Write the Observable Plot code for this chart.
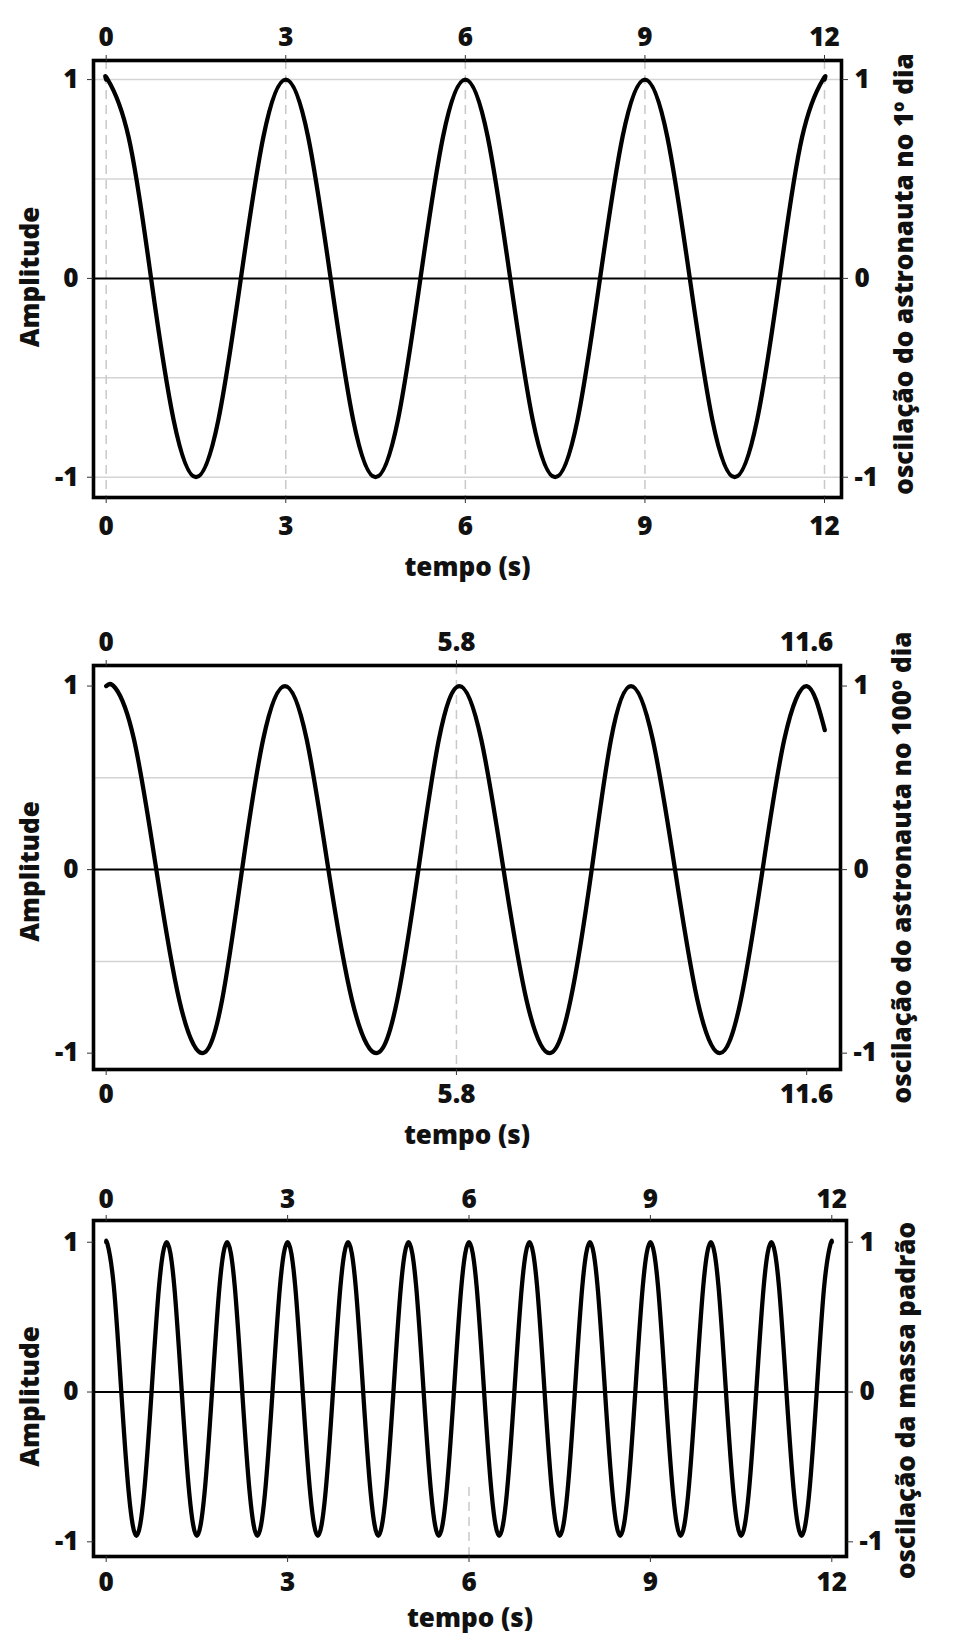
<!DOCTYPE html>
<html>
<head>
<meta charset="utf-8">
<script src="https://cdn.jsdelivr.net/npm/d3@7"></script>
<script src="https://cdn.jsdelivr.net/npm/@observablehq/plot@0.6"></script>
<style>
  html, body { margin: 0; padding: 0; background: #fff; }
  #chart svg { display: block; }
</style>
</head>
<body>
<div id="chart"></div>
<script>
// ---------- data ----------
// Panel 1: oscilação do astronauta no 1º dia
const t1 = [0,0.03,0.375,0.75,1.125,1.5,1.875,2.25,2.625,
            3,3.375,3.75,4.125,4.5,4.875,5.25,5.625,
            6,6.375,6.75,7.125,7.5,7.875,8.25,8.625,
            9,9.375,9.75,10.125,10.5,10.875,11.25,11.625,11.97,12];
const y1 = [1,0.998,0.71,0,-0.71,-1,-0.71,0,0.71,
            1,0.71,0,-0.71,-1,-0.71,0,0.71,
            1,0.71,0,-0.71,-1,-0.71,0,0.71,
            1,0.71,0,-0.71,-1,-0.71,0,0.71,0.998,1];
const xTicks1 = [0,3,6,9,12];

// Panel 2: oscilação do astronauta no 100º dia
const t2 = [0,0.15,0.46,0.83,1.21,1.59,1.92,2.25,2.6,2.96,
            3.32,3.68,4.07,4.47,4.82,5.17,5.51,5.85,
            6.21,6.58,6.96,7.34,7.69,8.04,8.36,8.69,
            9.05,9.42,9.79,10.16,10.51,10.87,11.23,11.6,11.9];
const y2 = [1,0.99,0.71,0,-0.71,-1,-0.71,0,0.71,1,
            0.71,0,-0.71,-1,-0.71,0,0.71,1,
            0.71,0,-0.71,-1,-0.71,0,0.71,1,
            0.71,0,-0.71,-1,-0.71,0,0.71,1,0.76];
const xTicks2 = [0,5.8,11.6];

// Panel 3: oscilação da massa padrão
const t3 = [0,0.02,0.125,0.25,0.375,0.5,0.625,0.75,0.875,
            1,1.125,1.25,1.375,1.5,1.625,1.75,1.875,
            2,2.125,2.25,2.375,2.5,2.625,2.75,2.875,
            3,3.125,3.25,3.375,3.5,3.625,3.75,3.875,
            4,4.125,4.25,4.375,4.5,4.625,4.75,4.875,
            5,5.125,5.25,5.375,5.5,5.625,5.75,5.875,
            6,6.125,6.25,6.375,6.5,6.625,6.75,6.875,
            7,7.125,7.25,7.375,7.5,7.625,7.75,7.875,
            8,8.125,8.25,8.375,8.5,8.625,8.75,8.875,
            9,9.125,9.25,9.375,9.5,9.625,9.75,9.875,
            10,10.125,10.25,10.375,10.5,10.625,10.75,10.875,
            11,11.125,11.25,11.375,11.5,11.625,11.75,11.875,11.98,12];
const y3 = [1,0.99,0.71,0,-0.68,-0.96,-0.68,0,0.71,
            1,0.71,0,-0.68,-0.96,-0.68,0,0.71,
            1,0.71,0,-0.68,-0.96,-0.68,0,0.71,
            1,0.71,0,-0.68,-0.96,-0.68,0,0.71,
            1,0.71,0,-0.68,-0.96,-0.68,0,0.71,
            1,0.71,0,-0.68,-0.96,-0.68,0,0.71,
            1,0.71,0,-0.68,-0.96,-0.68,0,0.71,
            1,0.71,0,-0.68,-0.96,-0.68,0,0.71,
            1,0.71,0,-0.68,-0.96,-0.68,0,0.71,
            1,0.71,0,-0.68,-0.96,-0.68,0,0.71,
            1,0.71,0,-0.68,-0.96,-0.68,0,0.71,
            1,0.71,0,-0.68,-0.96,-0.68,0,0.71,0.99,1];
const xTicks3 = [0,3,6,9,12];

const yTicks = [-1,0,1];
const xLabel = "tempo (s)";
const yLabel = "Amplitude";
const rightLabels = ["oscilação do astronauta no 1º dia",
                     "oscilação do astronauta no 100º dia",
                     "oscilação da massa padrão"];

// ---------- drawing ----------
const FONT = "'Open Sans', 'Noto Sans', sans-serif";
const TICK_FS = 26;
const LABEL_FS = 26;
const FW = 800;

function panel(o) {
  const pts = o.t.map((t, i) => ({t, y: o.y[i]}));
  const axisCommon = {tickSize: 6, fontSize: TICK_FS, label: null, tickFormat: d => String(d), stroke: "#333"};
  return Plot.plot({
    width: 957,
    height: o.height,
    marginLeft: 93,
    marginRight: o.marginRight,
    marginTop: o.marginTop,
    marginBottom: o.marginBottom,
    x: {domain: o.xDomain},
    y: {domain: o.yDomain},
    style: {fontFamily: FONT, fontWeight: FW, color: "#111", background: "#fff", overflow: "visible"},
    marks: [
      Plot.ruleY(o.hGrid, {stroke: "#d4d4d4", strokeWidth: 1.5}),
      Plot.ruleX(o.vGrid, {stroke: "#c9c9c9", strokeWidth: 1.5, strokeDasharray: "9,6",
                           y1: o.vSpan ? o.vSpan[0] : undefined, y2: o.vSpan ? o.vSpan[1] : undefined}),
      Plot.ruleY([0], {stroke: "#000", strokeWidth: 2}),
      Plot.line(pts, {x: "t", y: "y", curve: "natural", stroke: "#000", strokeWidth: 4.3,
                      strokeLinecap: "round", strokeLinejoin: "round"}),
      Plot.frame({stroke: "#000", strokeWidth: 3.6}),
      Plot.axisX(o.xTicks, {...axisCommon, anchor: "bottom", tickPadding: o.botPad}),
      Plot.axisX(o.xTicks, {...axisCommon, anchor: "top", tickPadding: o.topPad}),
      Plot.axisY(yTicks, {...axisCommon, anchor: "left", tickPadding: 9}),
      Plot.axisY(yTicks, {...axisCommon, anchor: "right", tickPadding: 7}),
      Plot.text([xLabel], {frameAnchor: "bottom", dy: o.xLabelDy, lineAnchor: "bottom", textAnchor: "middle",
                           fontSize: LABEL_FS, fontWeight: FW, fill: "#111"}),
      Plot.text([yLabel], {frameAnchor: "left", dx: -63, dy: o.leftDy, rotate: -90, lineAnchor: "middle",
                           textAnchor: "middle", fontSize: LABEL_FS, fontWeight: FW, fill: "#111"}),
      Plot.text([o.rightLabel], {frameAnchor: "right", dx: o.rightDx, dy: o.rightDy, rotate: -90,
                                 lineAnchor: "middle", textAnchor: "middle",
                                 fontSize: LABEL_FS, fontWeight: FW, fill: "#111"})
    ]
  });
}

const root = document.getElementById("chart");

root.append(panel({
  t: t1, y: y1, xTicks: xTicks1,
  height: 587, marginTop: 60, marginBottom: 90, marginRight: 116,
  xDomain: [-0.212, 12.284], yDomain: [-1.102, 1.096],
  hGrid: [-1, -0.5, 0.5, 1], vGrid: xTicks1,
  topPad: 9, botPad: 13, xLabelDy: 78,
  rightLabel: rightLabels[0], rightDx: 63, rightDy: -5, leftDy: -2
}));

root.append(panel({
  t: t2, y: y2, xTicks: xTicks2,
  height: 562, marginTop: 78, marginBottom: 80, marginRight: 117,
  xDomain: [-0.21, 12.16], yDomain: [-1.089, 1.112],
  hGrid: [-0.5, 0.5], vGrid: [5.8],
  topPad: 9, botPad: 9, xLabelDy: 74,
  rightLabel: rightLabels[1], rightDx: 62, rightDy: 0, leftDy: 4
}));

root.append(panel({
  t: t3, y: y3, xTicks: xTicks3,
  height: 487, marginTop: 71, marginBottom: 80, marginRight: 111,
  xDomain: [-0.21, 12.243], yDomain: [-1.098, 1.145],
  hGrid: [], vGrid: [6], vSpan: [-1.098, -0.62],
  topPad: 7, botPad: 10, xLabelDy: 70,
  rightLabel: rightLabels[2], rightDx: 60, rightDy: 12, leftDy: 8
}));
</script>
</body>
</html>
